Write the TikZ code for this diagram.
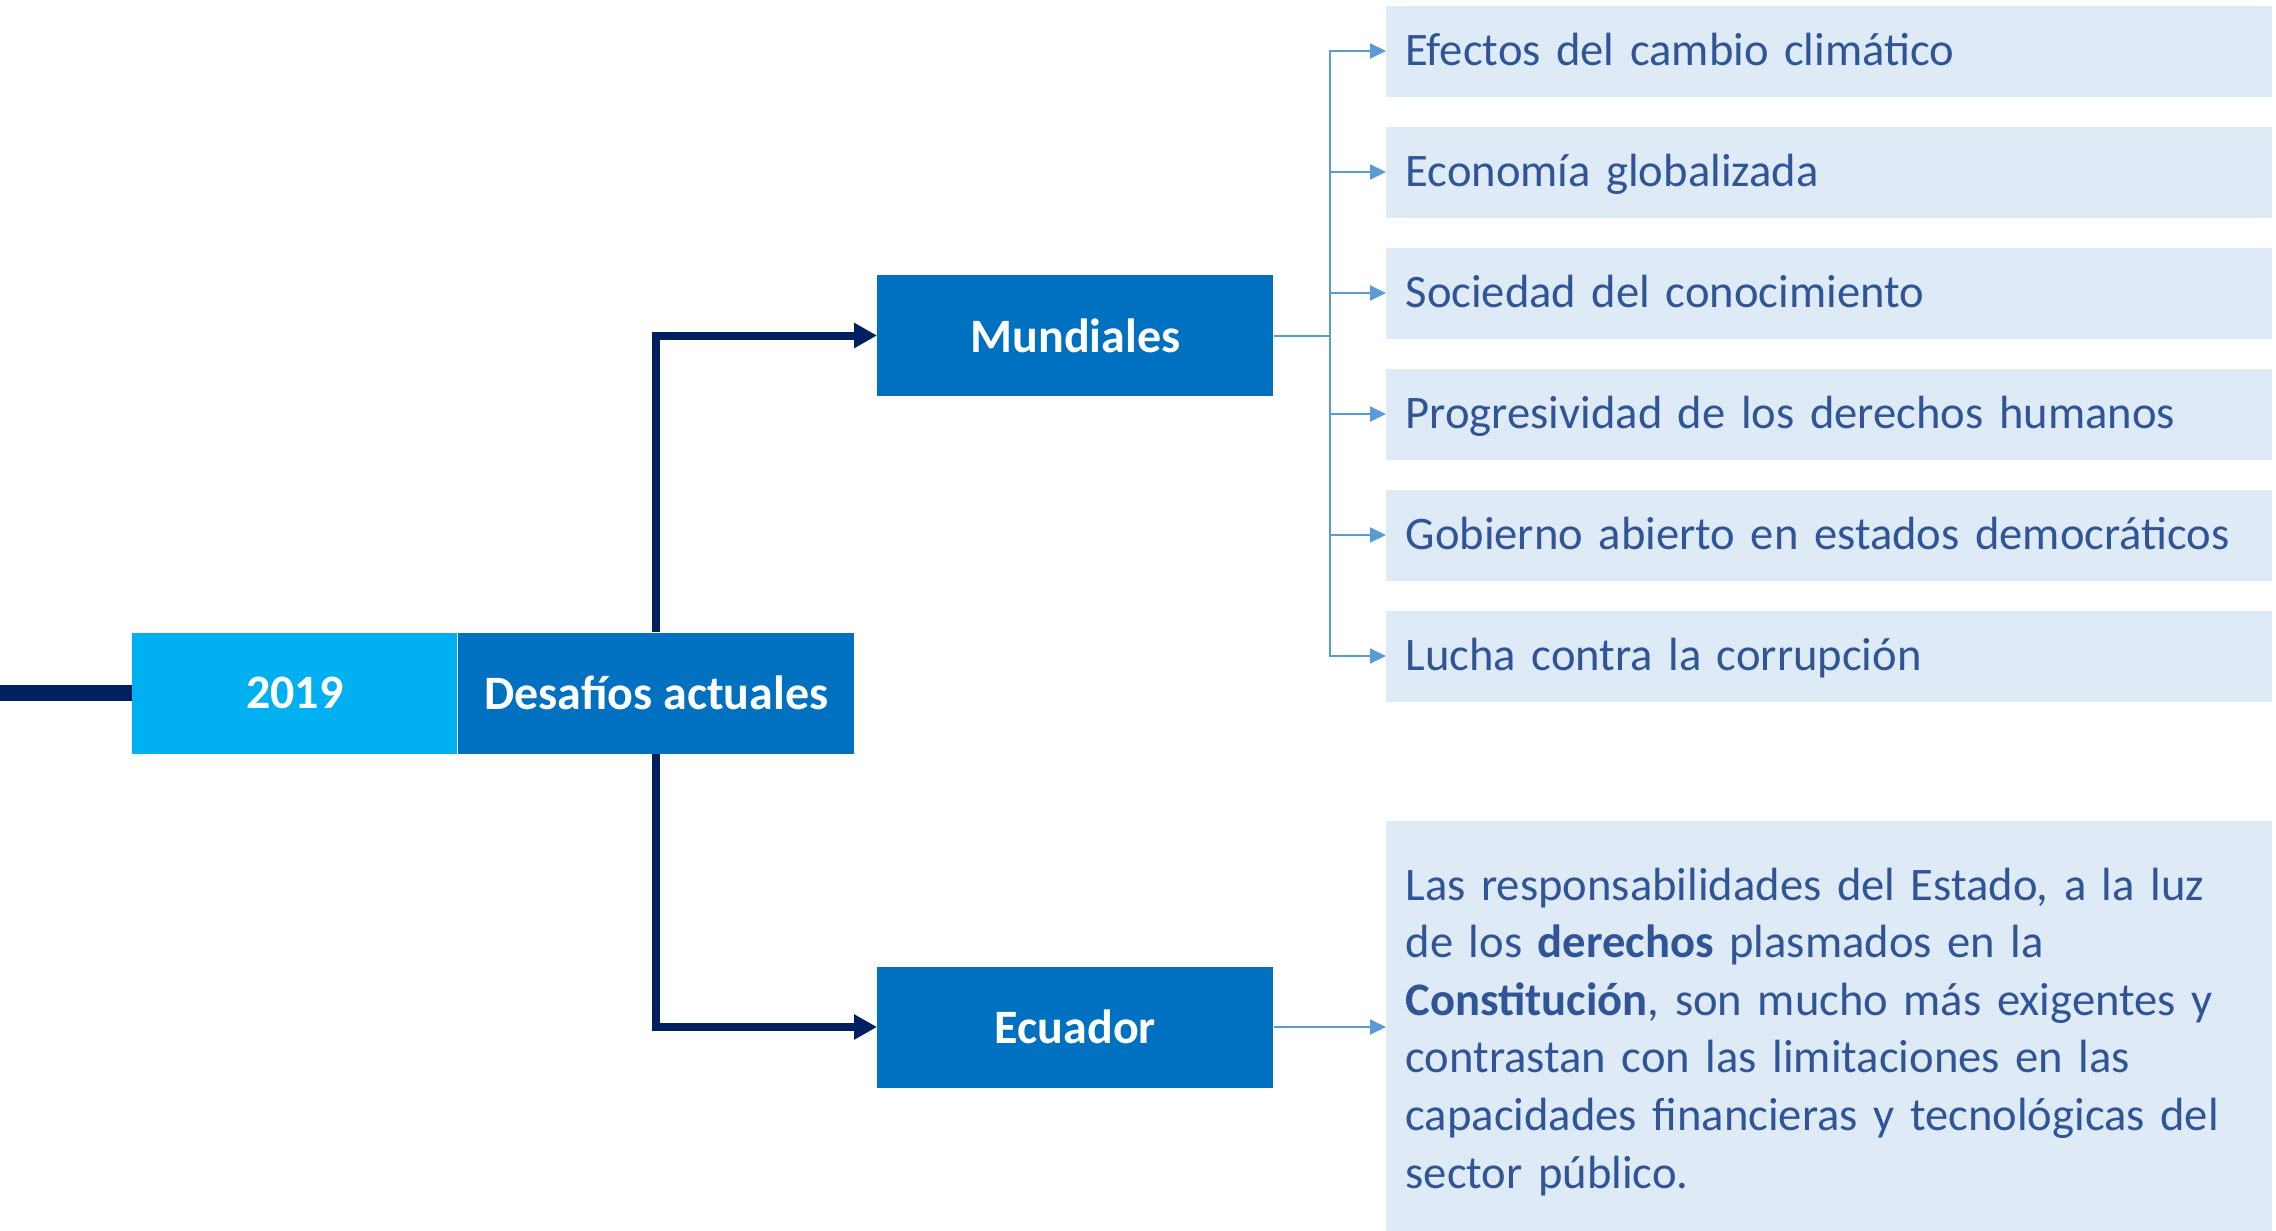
\documentclass[tikz,border=0pt]{standalone}
\usepackage{fontspec}
\setmainfont{Carlito}
\usetikzlibrary{arrows.meta}
\definecolor{navy}{HTML}{002060}
\definecolor{midblue}{HTML}{0070C0}
\definecolor{skyblue}{HTML}{00B0F0}
\definecolor{paleblue}{HTML}{DEEBF7}
\definecolor{lineblue}{HTML}{5B9BD5}
\definecolor{textblue}{HTML}{2F5597}
\tikzset{
    headbox/.style={fill=#1, text=white, font=\fontsize{24}{29}\selectfont\bfseries,
        minimum width=198pt, minimum height=60.5pt, inner sep=0pt, anchor=west},
    itembox/.style={fill=paleblue, text=textblue, font=\fontsize{23.3}{28.8}\selectfont,
        minimum width=443pt, minimum height=45.5pt, inner xsep=9.6pt, inner ysep=0pt,
        text width=423.8pt, align=left, anchor=west},
    darkarrow/.style={navy, line width=4pt, -{Triangle[length=11.5pt,width=12pt]}},
    bluearrow/.style={lineblue, line width=1pt, -{Triangle[length=8pt,width=7.5pt]}}
}
\begin{document}
\begin{tikzpicture}[x=0.5pt, y=-0.5pt]
    \useasboundingbox (0,0) rectangle (2276,1231);
    % left side
    \coordinate (start) at (0,693);
    \node[headbox=skyblue, minimum width=162.5pt] (year) at (132,693) {2019};
    \node[headbox=midblue] (desafios) at (year.east) {Desafíos actuales};
    \draw[navy, line width=8pt] (start) -- (year.west);
    % branches
    \node[headbox=midblue] (mundiales) at (877,335.5) {Mundiales};
    \node[headbox=midblue] (ecuador) at (877,1027) {Ecuador};
    \draw[darkarrow] (desafios.north) |- (mundiales.west);
    \draw[darkarrow] (desafios.south) |- (ecuador.west);
    % world challenges
    \foreach \t [count=\i] in {Efectos del cambio climático, Economía globalizada,
        Sociedad del conocimiento, Progresividad de los derechos humanos,
        Gobierno abierto en estados democráticos, Lucha contra la corrupción} {
        \node[itembox, text height=1.7em, text depth=0.256em] (item\i) at (1386,{121*\i-70}) {\t};
        \draw[bluearrow] (mundiales.east) -- ++(56,0) |- (item\i.west);
    }
    % Ecuador
    \node[itembox, minimum height=204.75pt] (texto) at (1386,1026) {};
    \node[itembox, fill=none, minimum height=0pt] (parrafo) at (1386,1031.6) {Las responsabilidades del Estado, a la luz\\
        de los \textbf{derechos} plasmados en la\\
        \textbf{Constitución}, son mucho más exigentes y\\
        contrastan con las limitaciones en las\\
        capacidades financieras y tecnológicas del\\
        sector público.};
    \draw[bluearrow] (ecuador.east) -- (ecuador.east -| texto.west);
\end{tikzpicture}
\end{document}
